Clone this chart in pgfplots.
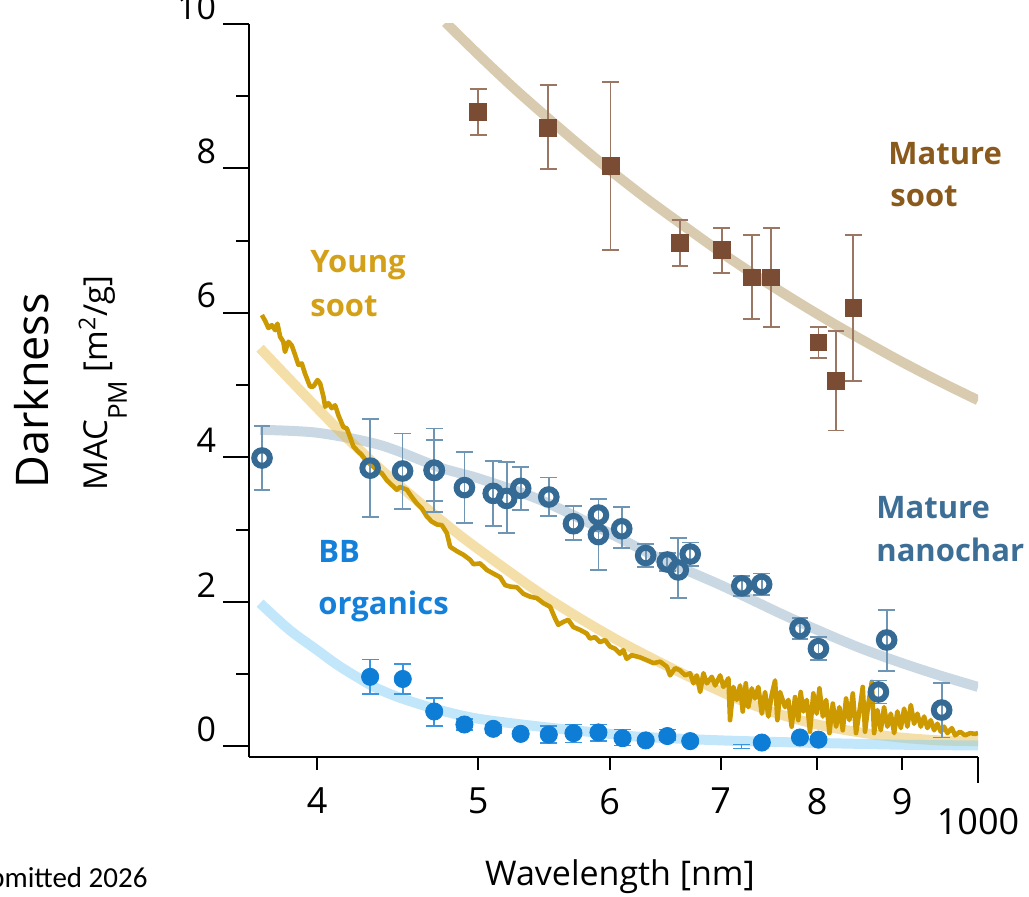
\documentclass[border=0pt]{standalone}
\usepackage{fontspec}
\setmainfont{Open Sans}
\newfontfamily\footfont{Carlito}
\usepackage{pgfplots}
\pgfplotsset{compat=1.18}

% series colours
\definecolor{sootsq}{HTML}{7A4C33}
\definecolor{sooterr}{HTML}{9A7663}
\definecolor{soottxt}{HTML}{8A5A1C}
\definecolor{sootfit}{HTML}{B19761}
\definecolor{young}{HTML}{CC9900}
\definecolor{youngfit}{HTML}{EBBF51}
\definecolor{youngtxt}{HTML}{D4A017}
\definecolor{nano}{HTML}{356A94}
\definecolor{nanoerr}{HTML}{6F95B5}
\definecolor{nanofit}{HTML}{93B1C7}
\definecolor{nanotxt}{HTML}{3D6E96}
\definecolor{bb}{HTML}{0E7DD6}
\definecolor{bberr}{HTML}{3B96DF}
\definecolor{bbfit}{HTML}{85CDF5}
\definecolor{bbtxt}{HTML}{1580DA}

% mature soot: wavelength, MAC, error +, error -
\pgfplotstableread{
x y ep em
500.0 8.78 0.32 0.32
551.0 8.56 0.60 0.57
600.8 8.03 1.17 1.16
661.5 6.97 0.32 0.32
701.0 6.87 0.31 0.32
730.7 6.49 0.59 0.58
750.8 6.49 0.69 0.69
801.5 5.59 0.21 0.21
821.3 5.06 0.69 0.69
841.2 6.07 1.01 1.01
}\soottab

% mature nanochar
\pgfplotstableread{
x y ep em
370.6 3.99 0.44 0.44
430.5 3.85 0.68 0.68
450.3 3.81 0.52 0.53
470.5 3.82 0.42 0.43
470.5 3.82 0.58 0.58
490.6 3.58 0.49 0.49
510.6 3.50 0.45 0.45
520.2 3.43 0.51 0.48
530.4 3.57 0.30 0.30
551.5 3.45 0.27 0.26
570.7 3.08 0.24 0.23
590.8 3.20 0.22 0.22
590.8 2.93 0.49 0.49
610.2 3.01 0.30 0.27
630.8 2.64 0.16 0.16
650.0 2.55 0.12 0.12
660.0 2.44 0.44 0.39
671.0 2.66 0.16 0.16
720.7 2.22 0.14 0.14
740.9 2.24 0.15 0.15
781.4 1.63 0.15 0.15
801.5 1.35 0.16 0.16
871.0 0.75 0.16 0.16
881.0 1.47 0.42 0.43
950.8 0.50 0.38 0.38
}\nanotab

% biomass-burning organics
\pgfplotstableread{
x y ep em
430.5 0.96 0.24 0.24
450.4 0.93 0.21 0.21
470.5 0.48 0.19 0.20
490.6 0.30 0.08 0.08
510.6 0.24 0.06 0.06
530.4 0.17 0.00 0.00
551.5 0.16 0.12 0.12
570.7 0.18 0.12 0.13
590.8 0.19 0.11 0.12
610.9 0.11 0.12 0.10
630.8 0.08 0.02 0.02
650.0 0.14 0.09 0.05
671.0 0.07 0.02 0.02
741.0 0.05 0.01 0.01
781.4 0.12 0.02 0.02
801.5 0.09 0.02 0.02
}\bbtab

\begin{document}
\begin{tikzpicture}
\begin{axis}[
  scale only axis, width=364.5pt, height=366.5pt,
  at={(0,0)}, anchor=south west,
  xmode=log, xmin=364, xmax=1000, ymin=-0.15, ymax=10,
  axis x line*=bottom, axis y line*=left,
  x axis line style={-}, y axis line style={-},
  axis line style={line width=1pt, black},
  tick align=outside, major tick length=13pt, minor tick length=6.5pt,
  tick style={line width=1pt, black},
  /pgf/number format/assume math mode=true,
  xtick={1000}, xticklabels={1000}, minor xtick={},
  xticklabel style={font=\fontsize{18}{20}\selectfont, yshift=-9pt},
  extra x ticks={400,500,600,700,800,900},
  extra x tick labels={4,5,6,7,8,9},
  extra x tick style={major tick length=6.5pt,
    tick label style={font=\fontsize{12}{14}\selectfont, yshift=3.5pt}},
  ytick={0,2,4,6,8,10}, minor ytick={1,3,5,7,9},
  yticklabel style={font=\fontsize{17}{20}\selectfont, yshift=8.5pt},
  clip=true,
]
% fitted curves
\addplot[smooth, line width=5pt, color=sootfit, opacity=0.5] coordinates {
(478,10.02) (500,9.58) (525,9.12) (550,8.71) (575,8.33) (600,7.98)
(630,7.60) (660,7.26) (700,6.84) (740,6.47) (780,6.14) (820,5.84)
(860,5.57) (900,5.32) (950,5.04) (1000,4.79)};
\addplot[smooth, line width=5pt, color=nanofit, opacity=0.5] coordinates {
(369.6,4.38) (400,4.34) (436.5,4.17) (474,3.86) (500,3.71) (545,3.41)
(600,2.95) (643,2.60) (700,2.23) (760,1.84) (800,1.61) (849,1.36)
(900,1.15) (948,0.98) (1000,0.82)};
\addplot[smooth, line width=5pt, color=youngfit, opacity=0.5] coordinates {
(369.6,5.51) (390.6,4.93) (412.9,4.36) (436.5,3.84) (461.3,3.37)
(487.5,2.92) (515.4,2.51) (544.7,2.12) (575.8,1.77) (608.6,1.45)
(643.4,1.16) (680.1,0.89) (719.1,0.64) (760.1,0.44) (803.5,0.29)
(849.1,0.19) (897.5,0.12) (948.5,0.08) (1000,0.07)};
\addplot[smooth, line width=5pt, color=bbfit, opacity=0.5] coordinates {
(369.6,1.98) (385,1.61) (400,1.33) (413,1.10) (433,0.82) (450,0.66)
(474,0.50) (500,0.38) (545,0.27) (600,0.17) (626,0.13) (700,0.08)
(781,0.05) (900,0.02) (1000,0.01)};
% young soot spectrum
\addplot[line width=2.3pt, color=young, line join=round] coordinates {
(370.5,5.97) (372.2,5.89) (373.9,5.79) (375.7,5.83) (377.4,5.76) (378.6,5.85)
(380.0,5.67) (381.7,5.60) (382.6,5.46) (384.4,5.60) (386.2,5.55) (388.0,5.42)
(389.8,5.28) (391.6,5.30) (393.4,5.16) (396.1,4.98) (398.0,4.98) (400.2,5.07)
(401.7,5.02) (403.5,4.84) (404.5,4.70) (406.3,4.75) (408.2,4.68) (410.1,4.72)
(412.0,4.58) (414.8,4.42) (416.8,4.40) (418.7,4.28) (420.6,4.15) (422.6,4.10)
(425.6,4.03) (428.5,3.94) (431.5,3.89) (434.5,3.82) (437.5,3.78) (440.6,3.68)
(446.7,3.55) (448.8,3.59) (453.0,3.55) (456.1,3.45) (459.3,3.36) (462.5,3.29)
(465.7,3.18) (468.9,3.11) (472.2,3.07) (475.5,3.06) (478.8,2.95) (481.0,2.76)
(485.5,2.70) (489.9,2.65) (494.5,2.58) (496.8,2.52) (501.4,2.53) (506.1,2.44)
(510.7,2.39) (515.5,2.34) (519.1,2.23) (522.7,2.21) (527.6,2.20) (532.4,2.11)
(537.4,2.07) (542.4,2.05) (547.4,1.98) (552.5,1.93) (556.3,1.77) (558.8,1.68)
(562.7,1.72) (566.6,1.75) (570.6,1.65) (575.9,1.61) (581.3,1.56) (583.9,1.49)
(588.0,1.51) (592.1,1.44) (596.2,1.47) (600.3,1.38) (604.5,1.35) (608.7,1.28)
(611.5,1.33) (614.4,1.21) (618.7,1.26) (625.8,1.23) (631.8,1.19) (637.6,1.15)
(643.6,1.17) (649.6,1.10) (652.5,0.98) (657.1,1.08) (661.6,1.05) (666.3,0.98)
(670.9,1.01) (674.0,0.87) (677.1,0.98) (680.3,0.75) (683.4,1.01) (686.6,0.87)
(691.4,0.96) (694.6,0.84) (699.4,0.98) (702.6,0.82) (707.5,0.94) (709.1,0.36)
(712.4,0.82) (715.7,0.64) (719.0,0.84) (721.7,0.48) (724.7,0.87) (727.3,0.54)
(730.8,0.80) (734.1,0.66) (737.5,0.82) (741.0,0.45) (744.4,0.75) (747.8,0.41)
(751.3,0.71) (754.8,0.91) (757.2,0.36) (760.0,0.75) (765.3,0.54) (768.8,0.64)
(772.4,0.27) (776.0,0.68) (779.5,0.36) (782.1,0.75) (785.0,0.48) (788.7,0.64)
(792.3,0.20) (795.9,0.73) (799.7,0.45) (802.6,0.80) (806.4,0.41) (810.1,0.64)
(813.8,0.18) (817.6,0.59) (821.4,0.27) (825.1,0.54) (829.0,0.22) (832.8,0.66)
(836.6,0.36) (840.6,0.73) (844.4,0.18) (849.1,0.54) (852.3,0.82) (855.0,0.20)
(859.0,0.59) (863.0,0.89) (865.8,0.18) (869.8,0.50) (873.9,0.22) (877.9,0.54)
(881.9,0.27) (886.1,0.45) (890.2,0.18) (894.2,0.48) (898.5,0.25) (902.6,0.52)
(906.7,0.27) (911.0,0.57) (915.2,0.31) (919.4,0.45) (923.7,0.27) (928.0,0.41)
(932.2,0.25) (936.6,0.36) (940.9,0.22) (945.2,0.31) (949.7,0.20) (954.0,0.27)
(958.4,0.18) (964.3,0.25) (968.7,0.15) (975.4,0.20) (982.2,0.15) (989.0,0.18)
(995.9,0.17) (1000,0.18)};
% BB organics points
\addplot[only marks, mark=*, mark size=4.3pt, color=bb,
  mark options={draw=bb, fill=bb},
  error bars/.cd, y dir=both, y explicit,
  error bar style={line width=0.9pt, color=bberr},
  error mark options={rotate=90, mark size=4.2pt, line width=0.9pt, color=bberr}]
  table[x=x, y=y, y error plus=ep, y error minus=em] {\bbtab};
% a near-zero value whose marker lies below the axis floor
\addplot[only marks, color=bberr, mark=*, mark options={draw opacity=0, fill opacity=0},
  error bars/.cd, y dir=both, y explicit,
  error bar style={line width=0.7pt, color=bberr},
  error mark options={rotate=90, mark size=4.2pt, line width=0.7pt, color=bberr}]
  coordinates {(720.7,-0.005) +- (0,0.025)};
% mature nanochar points
\addplot[only marks, mark=o, mark size=3.9pt, color=nano,
  mark options={draw=nano, fill=white, line width=3pt},
  error bars/.cd, y dir=both, y explicit,
  error bar style={line width=0.9pt, color=nanoerr},
  error mark options={rotate=90, mark size=4.2pt, line width=0.9pt, color=nanoerr}]
  table[x=x, y=y, y error plus=ep, y error minus=em] {\nanotab};
% mature soot points
\addplot[only marks, mark=square*, mark size=4.2pt, color=sootsq,
  mark options={draw=sootsq, fill=sootsq},
  error bars/.cd, y dir=both, y explicit,
  error bar style={line width=0.9pt, color=sooterr},
  error mark options={rotate=90, mark size=4.2pt, line width=0.9pt, color=sooterr}]
  table[x=x, y=y, y error plus=ep, y error minus=em] {\soottab};
\end{axis}

% axis titles
\node[font=\fontsize{22.5}{27}\selectfont, rotate=90, anchor=base] at (-100pt,183pt) {Darkness};
\node[font=\fontsize{16.5}{19}\selectfont, rotate=90, anchor=base] at (-70.5pt,187pt)
  {MAC\raisebox{-9.5pt}{\fontsize{13}{15}\selectfont PM} [m\textsuperscript{2}/g]};
\node[font=\fontsize{17}{20}\selectfont, anchor=base] at (185.5pt,-64.5pt) {Wavelength [nm]};
\node[font=\footfont\fontsize{14.5}{17}\selectfont, anchor=base east, inner sep=0pt] at (-50.5pt,-65.5pt) {Submitted 2026};

% series labels
\begin{scope}[font=\bfseries\fontsize{15.5}{18}\selectfont, anchor=base west, inner sep=0pt]
\node[text=soottxt] at (319.5pt,296pt) {Mature};
\node[text=soottxt] at (320.5pt,275pt) {soot};
\node[text=youngtxt] at (30.5pt,242pt) {Young};
\node[text=youngtxt] at (30.5pt,220pt) {soot};
\node[text=nanotxt] at (313.5pt,119pt) {Mature};
\node[text=nanotxt] at (313.5pt,97.5pt) {nanochar};
\node[text=bbtxt] at (34.5pt,97pt) {BB};
\node[text=bbtxt] at (34.5pt,71pt) {organics};
\end{scope}

\pgfresetboundingbox
\useasboundingbox (-124.5pt,-70pt) rectangle (390pt,378.5pt);
\end{tikzpicture}
\end{document}
